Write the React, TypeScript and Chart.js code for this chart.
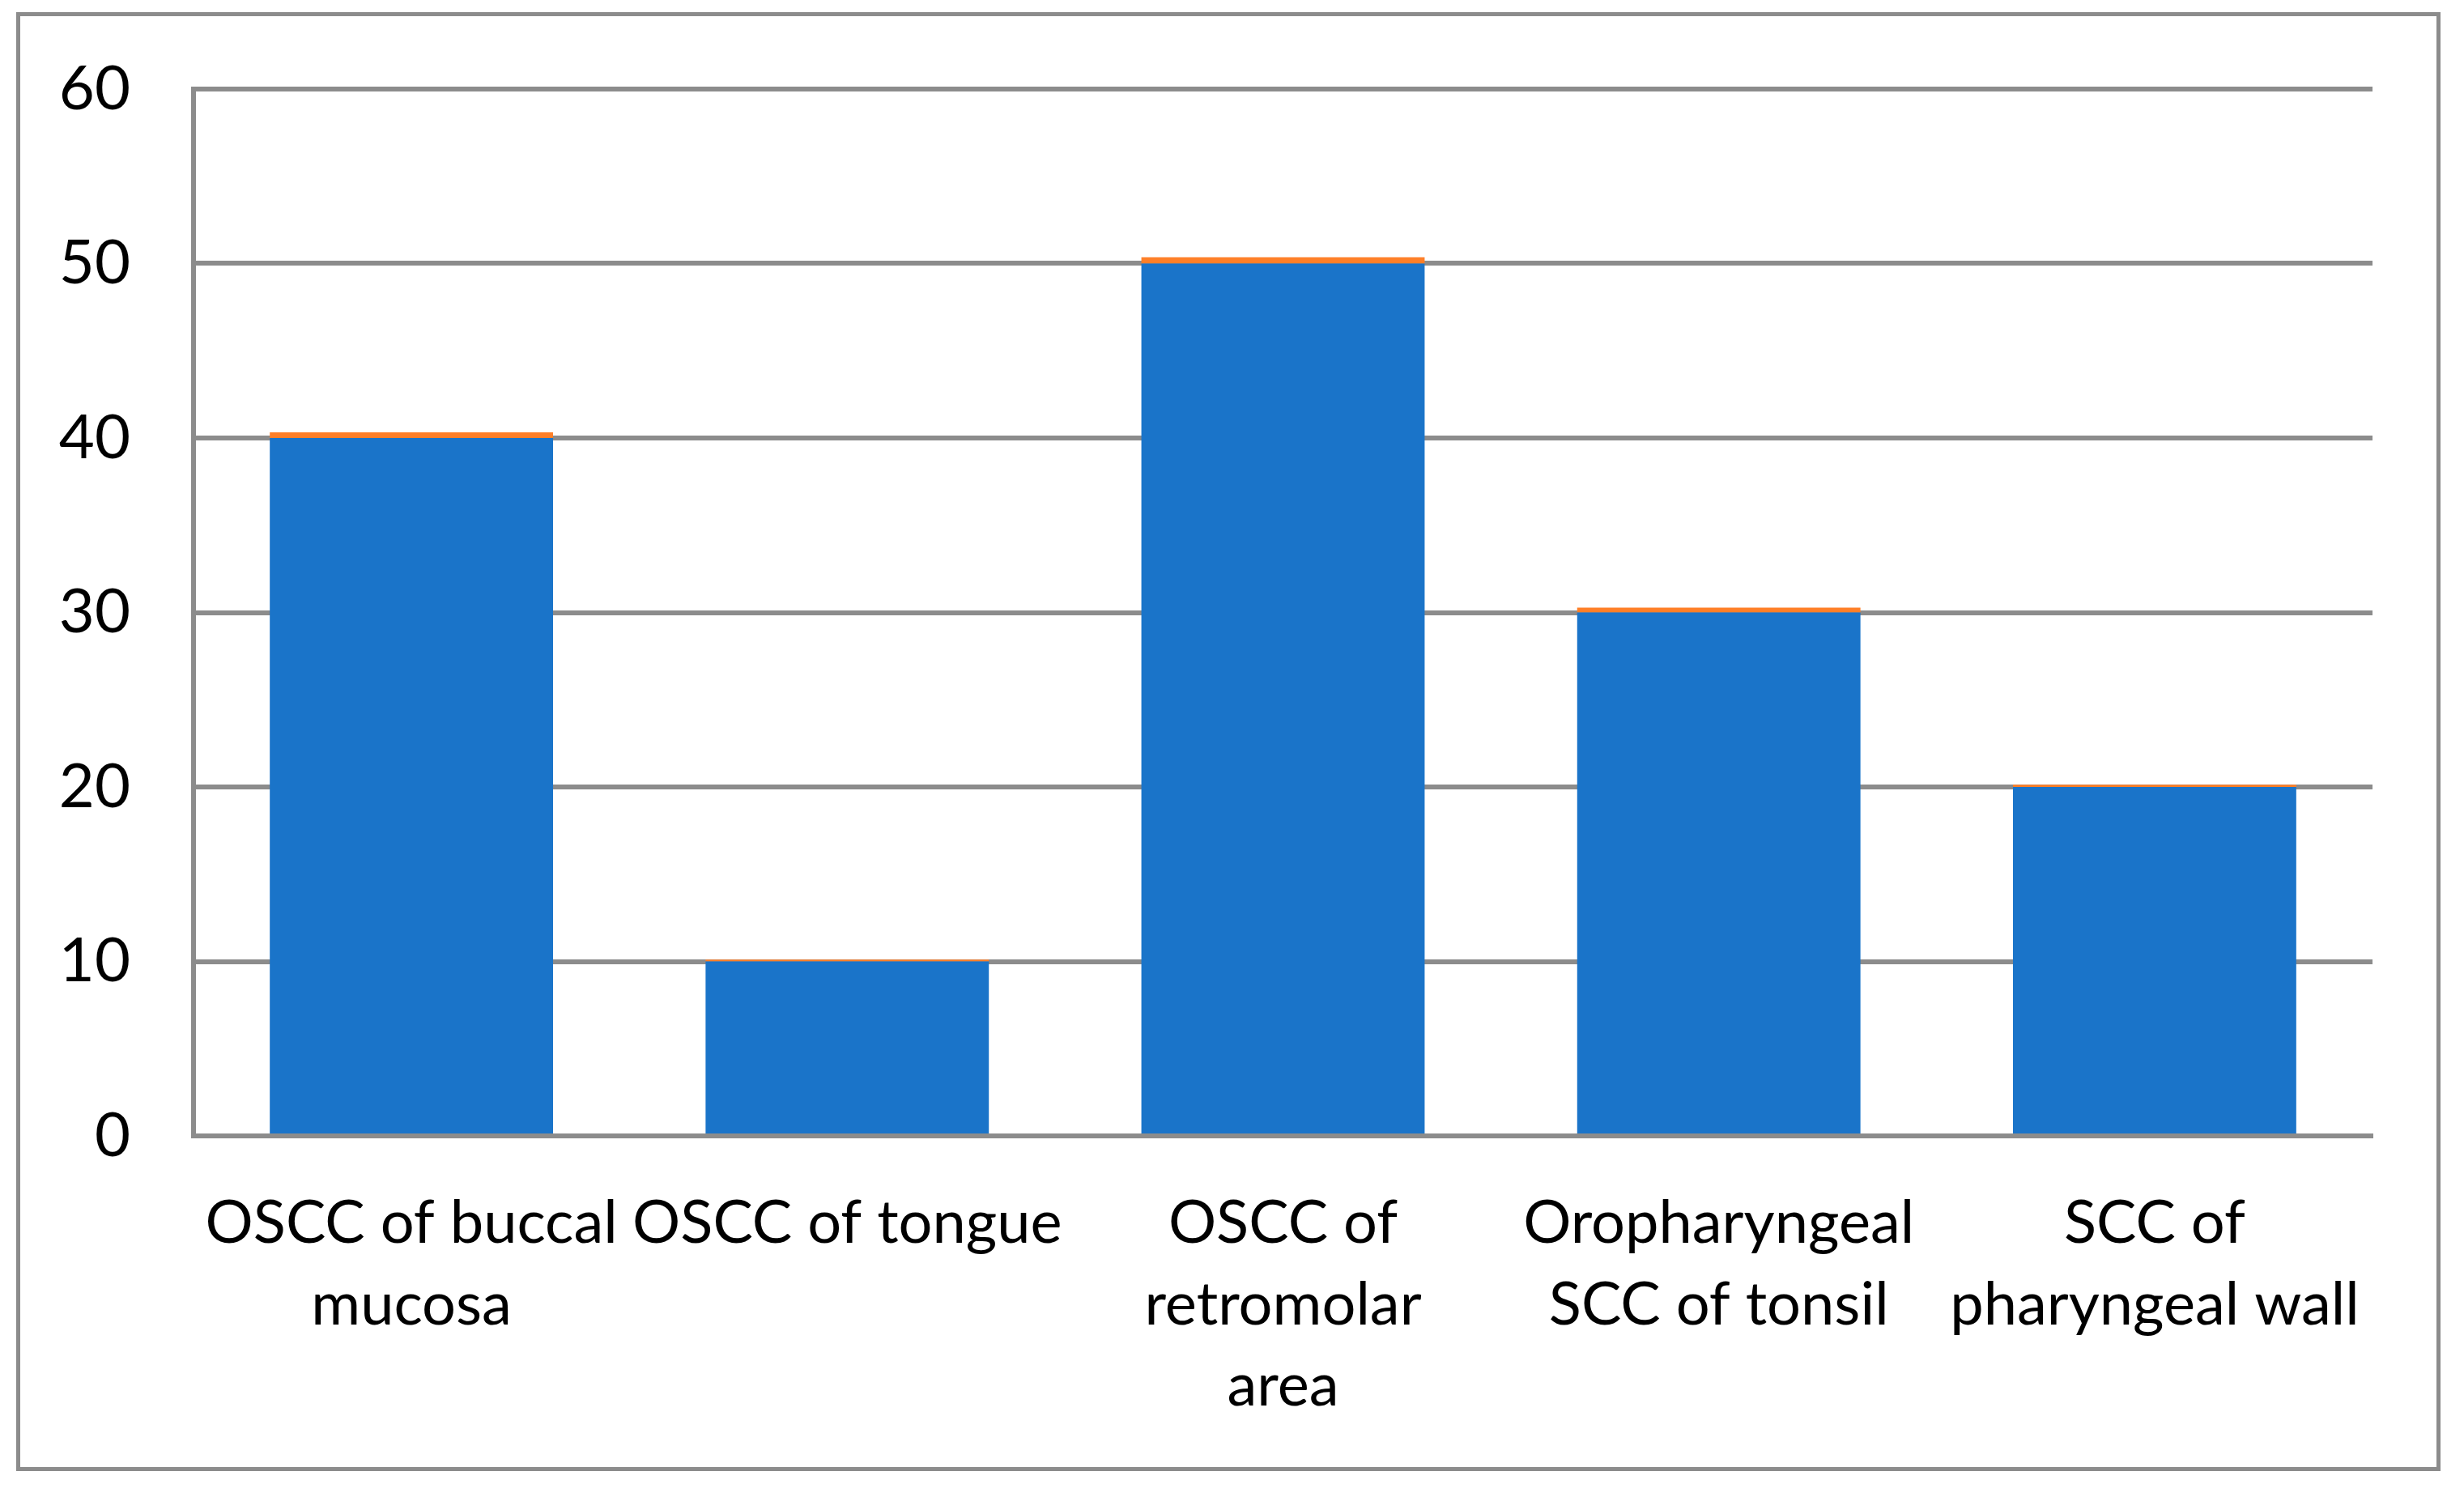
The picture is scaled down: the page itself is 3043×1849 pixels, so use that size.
import React, { useEffect, useRef } from "react";
import { Chart, registerables } from "chart.js";

Chart.register(...registerables);

const categories: string[][] = [
  ["OSCC of buccal", "mucosa"],
  ["OSCC of tongue"],
  ["OSCC of", "retromolar", "area"],
  ["Oropharyngeal", "SCC of tonsil"],
  ["SCC of", "pharyngeal wall"],
];
const blueValues = [40, 10, 50, 30, 20];
const orangeValues = [0.33, 0.1, 0.36, 0.28, 0.13];
const yTicks = { min: 0, max: 60, step: 10 };

const W = 3043;
const H = 1849;
const GRAY = "#8c8c8c";
const FONT = "Lato";

export default function App() {
  const ref = useRef<HTMLCanvasElement | null>(null);

  useEffect(() => {
    if (!ref.current) return;
    const chart = new Chart(ref.current, {
      type: "bar",
      data: {
        labels: categories,
        datasets: [
          {
            label: "Series 1",
            data: blueValues,
            backgroundColor: "#1a74c9",
            borderWidth: 0,
            categoryPercentage: 1,
            barPercentage: 0.65,
          },
          {
            label: "Series 2",
            data: orangeValues,
            backgroundColor: "#fe7f28",
            borderWidth: 0,
            categoryPercentage: 1,
            barPercentage: 0.65,
          },
        ],
      },
      options: {
        animation: false,
        responsive: false,
        devicePixelRatio: 1,
        layout: { padding: { left: 0, right: 113, top: 110, bottom: 46 } },
        plugins: { legend: { display: false }, tooltip: { enabled: false } },
        scales: {
          x: {
            stacked: true,
            grid: { display: false, drawTicks: false },
            border: { display: true, color: GRAY, width: 6 },
            ticks: {
              color: "#000",
              padding: 58,
              maxRotation: 0,
              autoSkip: false,
              font: { family: FONT, size: 74, lineHeight: 1.36 },
            },
            afterFit: (s: any) => {
              s.height = 400;
              s.paddingLeft = 0;
              s.paddingRight = 0;
            },
          },
          y: {
            stacked: true,
            min: yTicks.min,
            max: yTicks.max,
            grid: { color: GRAY, lineWidth: 6, drawTicks: false },
            border: { display: true, color: GRAY, width: 6 },
            ticks: {
              stepSize: yTicks.step,
              color: "#000",
              padding: 78,
              font: { family: FONT, size: 76 },
            },
            afterFit: (s: any) => {
              s.width = 239;
              s.paddingTop = 0;
              s.paddingBottom = 0;
            },
          },
        },
      },
    });
    return () => chart.destroy();
  }, []);

  return (
    <div style={{ position: "fixed", left: 0, top: 0, width: W, height: H, background: "#fff" }}>
      <div
        style={{
          position: "absolute",
          left: 20,
          top: 15,
          width: 2994,
          height: 1802,
          border: `5px solid ${GRAY}`,
          boxSizing: "border-box",
        }}
      />
      <canvas ref={ref} width={W} height={H} style={{ position: "absolute", left: 0, top: 0, width: W, height: H }} />
    </div>
  );
}
